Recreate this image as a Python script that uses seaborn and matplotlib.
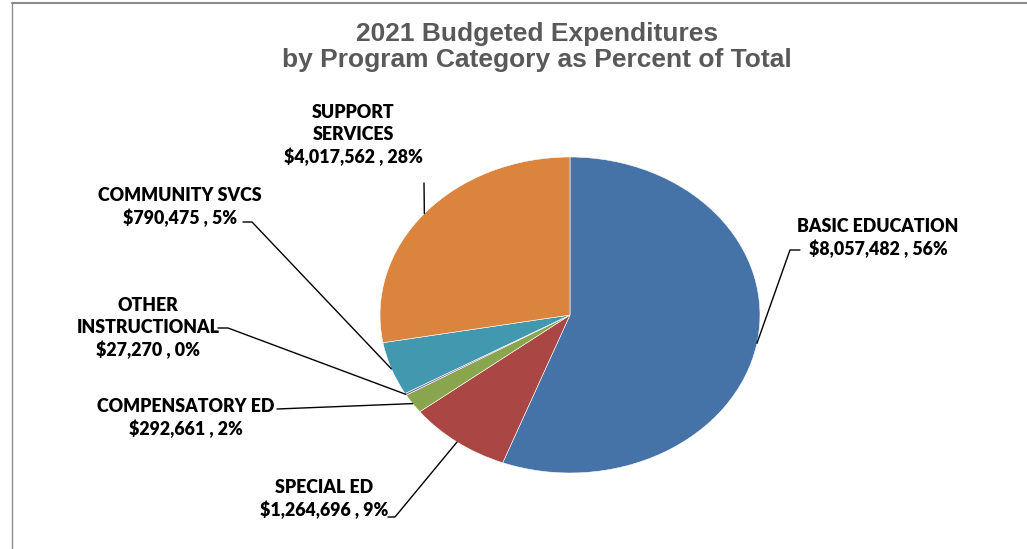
import matplotlib
matplotlib.use("Agg")
import matplotlib.pyplot as plt
from matplotlib.lines import Line2D
from matplotlib.transforms import IdentityTransform
import numpy as np
import seaborn as sns

# Program categories and budgeted amounts
categories = ["BASIC EDUCATION", "SPECIAL ED", "COMPENSATORY ED",
              "OTHER\nINSTRUCTIONAL", "COMMUNITY SVCS", "SUPPORT\nSERVICES"]
amounts = [8057482, 1264696, 292661, 27270, 790475, 4017562]
colors = ["#4572A7", "#AA4643", "#89A54E", "#80699B", "#4198AF", "#DB843D"]

title = "2021 Budgeted Expenditures\nby Program Category as Percent of Total"

sns.set_theme(style="white")
plt.rcParams["font.family"] = ["DejaVu Sans"]

W, H = 1027, 549
fig = plt.figure(figsize=(W / 100, H / 100), dpi=100)
fig.patch.set_facecolor("white")

# Frame lines (top and left edges of the chart area)
fig.add_artist(Line2D([12, W], [H - 3, H - 3], transform=IdentityTransform(),
                      color="#8c8c8c", lw=1.5))
fig.add_artist(Line2D([12, 12], [0, H - 3], transform=IdentityTransform(),
                      color="#8c8c8c", lw=1.0))

# Pie axes, stretched horizontally so the pie is drawn as an ellipse
cx, cy, rx, ry = 570, 315, 190, 158
ax = fig.add_axes([(cx - rx) / W, (H - cy - ry) / H, 2 * rx / W, 2 * ry / H])
wedges, _ = ax.pie(amounts, colors=colors, startangle=90, counterclock=False,
                   radius=1, wedgeprops=dict(edgecolor="white", linewidth=0.4))
ax.set_aspect("auto")
ax.set_xlim(-1, 1)
ax.set_ylim(-1, 1)
ax.axis("off")

fig.text(537 / W, 1 - 47 / H, title, ha="center", va="center",
         fontsize=19, fontweight="bold", color="#595959",
         family="Liberation Sans", linespacing=1.15)

total = sum(amounts)
# label text centre (x, y from top), leader knee and leader end, in pixels
label_pos = [(878, 238), (324, 499), (186, 418), (148, 328), (180, 207), (353, 135)]
knees = [(790, 250), (395, 517), (277, 409), (228, 328), (252, 222), (424, 183)]
ends = [(800, 250), (388, 517), (277, 409), (218, 328), (243, 222), (424, 183)]

for w, cat, amt, (lx, ly), (kx, ky), (ex, ey) in zip(
        wedges, categories, amounts, label_pos, knees, ends):
    mid = np.deg2rad((w.theta1 + w.theta2) / 2)
    px, py = ax.transData.transform((np.cos(mid), np.sin(mid)))
    fig.add_artist(Line2D([px, kx, ex], [py, H - ky, H - ey],
                          transform=IdentityTransform(), color="black", lw=1.0))
    pct = 100 * amt / total
    text = f"{cat}\n${amt:,} , {pct:.0f}%"
    fig.text(lx / W, 1 - ly / H, text, ha="center", va="center",
             fontsize=12.8, fontweight="heavy", color="black",
             family="Lato", linespacing=1.3)

fig.savefig("out.png", dpi=100, facecolor="white")
